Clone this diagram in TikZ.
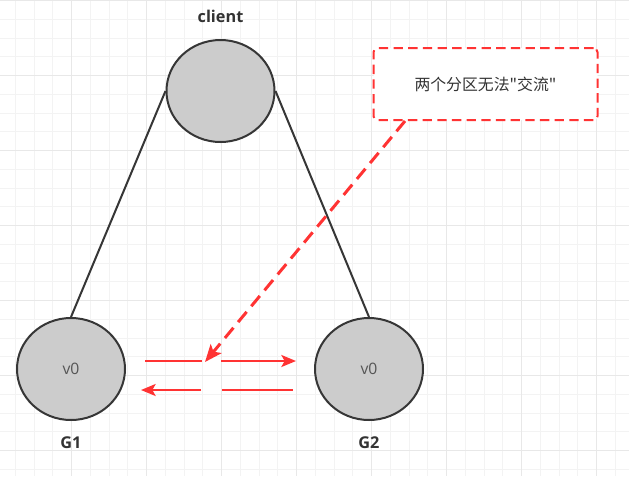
\documentclass[tikz,border=0pt]{standalone}
\usepackage{fontspec}
\setmainfont{Open Sans}
\newfontfamily\cjk{Noto Sans CJK SC}
\usetikzlibrary{arrows.meta,shapes.geometric}
\definecolor{gridminor}{RGB}{243,243,243}
\definecolor{gridmajor}{RGB}{232,232,232}
\definecolor{redc}{RGB}{255,51,51}
\definecolor{strokec}{RGB}{54,54,54}
\definecolor{fillc}{RGB}{204,204,204}
\definecolor{textc}{RGB}{51,51,51}
\definecolor{vtext}{RGB}{85,85,85}
\tikzset{
  minorline/.style={draw=gridminor, line width=0.75pt},
  majorline/.style={draw=gridmajor, line width=1pt},
  peer/.style={ellipse, draw=strokec, fill=fillc, line width=1.5pt,
    minimum width=81pt, minimum height=76.5pt, inner sep=0pt,
    text=vtext, font=\fontsize{11.8}{13}\selectfont},
  caption/.style={text=textc, font=\bfseries\fontsize{12.2}{14}\selectfont},
  conn/.style={draw=strokec, line width=1.5pt},
  redline/.style={draw=redc, line width=1.5pt},
  redarrow/.style={draw=redc, line width=1.5pt,
    -{Stealth[length=11pt,width=9pt,inset=2.5pt]}},
  notebox/.style={draw=redc, fill=white, line width=1.5pt,
    dash pattern=on 7pt off 4pt, rounded corners=3pt,
    minimum width=168pt, minimum height=54pt, inner sep=0pt,
    text=textc, font=\cjk\fontsize{11.9}{13}\selectfont},
  notearrow/.style={draw=redc, line width=2.25pt,
    dash pattern=on 10pt off 5.5pt,
    -{Stealth[length=13pt,width=10.5pt,inset=3pt]}}
}
\begin{document}
\begin{tikzpicture}[x=0.75pt,y=-0.75pt]
\useasboundingbox (0,0) rectangle (629,476);
\fill[white] (0,0) rectangle (629,476);
% grid
\foreach \i in {0,...,34} {
  \pgfmathsetmacro\xx{-3.3+18.75*\i}
  \draw[minorline] (\xx,0) -- (\xx,476);
}
\foreach \i in {0,...,26} {
  \pgfmathsetmacro\yy{0.7+18.75*\i}
  \draw[minorline] (0,\yy) -- (629,\yy);
}
\foreach \i in {0,...,9} {
  \pgfmathsetmacro\xx{-3.3+75*\i}
  \draw[majorline] (\xx,0) -- (\xx,476);
}
\foreach \i in {0,...,6} {
  \pgfmathsetmacro\yy{0.7+75*\i}
  \draw[majorline] (0,\yy) -- (629,\yy);
}
% nodes
\node[peer] (client) at (220.5,91) {};
\node[peer] (G1) at (71,369) {v0};
\node[peer] (G2) at (369,369) {v0};
\node[caption] (clientlbl) at (220.5,16) {client};
\node[caption] (G1lbl) at (71,443) {G1};
\node[caption] (G2lbl) at (369,443) {G2};
% connectors
\draw[conn] (client.west) -- (G1.north);
\draw[conn] (client.east) -- (G2.north);
% note
\node[notebox] (note) at (485.5,84.2) {两个分区无法"交流"};
\coordinate (noteout) at (405,121);
\coordinate (cut) at (205,362);
\draw[notearrow] (noteout) -- (cut);
% red arrows
\coordinate (ta) at (145,361);
\coordinate (tb) at (202,361);
\coordinate (tc) at (221,361);
\coordinate (td) at (296,361);
\coordinate (ba) at (141,390);
\coordinate (bb) at (201,390);
\coordinate (bc) at (222,390);
\coordinate (bd) at (293,390);
\draw[redline] (ta) -- (tb);
\draw[redarrow] (tc) -- (td);
\draw[redarrow] (bb) -- (ba);
\draw[redline] (bc) -- (bd);
\end{tikzpicture}
\end{document}
